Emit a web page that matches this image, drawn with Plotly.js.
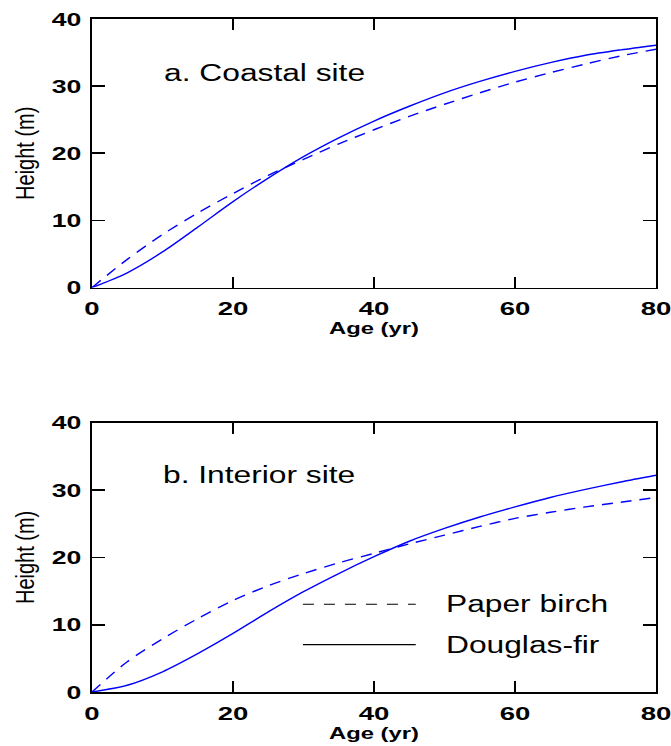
<!DOCTYPE html>
<html>
<head>
<meta charset="utf-8">
<script src="https://cdn.plot.ly/plotly-3.0.1.min.js"></script>
<style>
  html, body { margin: 0; padding: 0; background: #fff; }
  #chart { width: 671px; height: 746px; }
</style>
</head>
<body>
<div id="chart"></div>
<script>
// ---- Data ----
const age = [0, 5, 10, 15, 20, 25, 30, 35, 40, 45, 50, 55, 60, 65, 70, 75, 80];
const coastalBirch  = [0, 4.2, 7.9, 11.1, 14.0, 16.7, 19.1, 21.4, 23.5, 25.5, 27.3, 29.0, 30.6, 32.0, 33.3, 34.5, 35.5];
const coastalFir    = [0, 2.2, 5.3, 9.0, 12.8, 16.3, 19.5, 22.3, 24.8, 27.0, 29.0, 30.7, 32.2, 33.5, 34.6, 35.4, 36.1];
const interiorBirch = [0, 4.5, 7.9, 10.9, 13.6, 15.8, 17.6, 19.2, 20.6, 22.0, 23.3, 24.6, 25.8, 26.7, 27.5, 28.2, 28.9];
const interiorFir   = [0, 1.0, 3.0, 5.7, 8.7, 11.9, 14.9, 17.6, 20.1, 22.4, 24.3, 26.0, 27.5, 28.9, 30.1, 31.2, 32.2];
const xTickVals = [0, 20, 40, 60, 80];
const yTickVals = [0, 10, 20, 30, 40];
const panelLabels = ['a. Coastal site', 'b. Interior site'];
const seriesNames = ['Paper birch', 'Douglas-fir'];
const xTitle = 'Age (yr)';
const yTitle = 'Height (m)';

const BLUE = '#0000ff';
const DASH = '11px,8px';
const FONT = 'Liberation Sans, Arial, sans-serif';

function curve(y, dash, xa, ya, name) {
  return {
    x: age, y: y, type: 'scatter', mode: 'lines', name: name,
    xaxis: xa, yaxis: ya, showlegend: false, hoverinfo: 'skip',
    line: { color: BLUE, width: 1.4, dash: dash, shape: 'spline', smoothing: 0.8 }
  };
}

const traces = [
  curve(coastalBirch, DASH, 'x', 'y', seriesNames[0]),
  curve(coastalFir, 'solid', 'x', 'y', seriesNames[1]),
  curve(interiorBirch, DASH, 'x2', 'y2', seriesNames[0]),
  curve(interiorFir, 'solid', 'x2', 'y2', seriesNames[1])
];

const tickFont = { family: FONT, size: 19, color: '#000', weight: 'bold' };

function xAxis(anchor) {
  return {
    anchor: anchor, domain: [0, 1], range: [0, 80],
    tickvals: xTickVals, ticktext: xTickVals.map(String),
    ticks: 'inside', ticklen: 11, tickwidth: 1.6, tickcolor: '#000',
    showline: true, linecolor: '#000', linewidth: 1.8, mirror: 'ticks',
    showgrid: false, zeroline: false,
    tickfont: tickFont,
    ticklabelstandoff: 3,
    title: { text: xTitle, font: { family: FONT, size: 17, color: '#000', weight: 'bold' }, standoff: 0 }
  };
}
function yAxis(domain, anchor) {
  return {
    anchor: anchor, domain: domain, range: [0, 40],
    tickvals: yTickVals, ticktext: yTickVals.map(String),
    ticks: 'inside', ticklen: 13, tickwidth: 1.6, tickcolor: '#000',
    showline: true, linecolor: '#000', linewidth: 1.8, mirror: 'ticks',
    showgrid: false, zeroline: false,
    tickfont: tickFont,
    ticklabelstandoff: 5,
    title: { text: yTitle, font: { family: FONT, size: 20, color: '#000' }, standoff: 22 }
  };
}

const annFont = { family: FONT, size: 23, color: '#000' };
const legFont = { family: FONT, size: 23, color: '#000' };

const layout = {
  width: 671, height: 746,
  margin: { l: 92, r: 15, t: 19, b: 54 },
  paper_bgcolor: '#fff', plot_bgcolor: '#fff',
  showlegend: false,
  xaxis: xAxis('y'),
  yaxis: yAxis([0.601, 1], 'x'),
  xaxis2: xAxis('y2'),
  yaxis2: yAxis([0, 0.400], 'x2'),
  annotations: [
    { xref: 'x domain', yref: 'y domain', x: 0.126, y: 0.80, xanchor: 'left', yanchor: 'middle',
      text: panelLabels[0], showarrow: false, font: annFont, borderpad: 0 },
    { xref: 'x2 domain', yref: 'y2 domain', x: 0.124, y: 0.806, xanchor: 'left', yanchor: 'middle',
      text: panelLabels[1], showarrow: false, font: annFont, borderpad: 0 },
    { xref: 'x2 domain', yref: 'y2 domain', x: 0.626, y: 0.326, xanchor: 'left', yanchor: 'middle',
      text: seriesNames[0], showarrow: false, font: legFont, borderpad: 0 },
    { xref: 'x2 domain', yref: 'y2 domain', x: 0.626, y: 0.176, xanchor: 'left', yanchor: 'middle',
      text: seriesNames[1], showarrow: false, font: legFont, borderpad: 0 }
  ],
  shapes: [
    { type: 'line', xref: 'x2 domain', yref: 'y2 domain', x0: 0.374, x1: 0.574, y0: 0.326, y1: 0.326,
      line: { color: '#000', width: 1.2, dash: '11px,10px' } },
    { type: 'line', xref: 'x2 domain', yref: 'y2 domain', x0: 0.374, x1: 0.574, y0: 0.176, y1: 0.176,
      line: { color: '#000', width: 1.2, dash: 'solid' } }
  ]
};

// widen text horizontally on screen (the reference picture is stretched sideways)
function stretch(el, sx, mode) {
  let bb;
  try { bb = el.getBBox(); } catch (e) { return; }
  let ax;
  if (mode === 'left') ax = bb.x;
  else if (mode === 'right') ax = bb.x + bb.width;
  else ax = bb.x + bb.width / 2;
  const t = el.getAttribute('transform') || '';
  el.setAttribute('transform', t + ' translate(' + ax + ',0) scale(' + sx + ',1) translate(' + (-ax) + ',0)');
}
// rotated (vertical) text: thicken along its local y, which is screen x
function stretchRotated(el, sy) {
  let bb;
  try { bb = el.getBBox(); } catch (e) { return; }
  const cy = bb.y + bb.height / 2;
  const t = el.getAttribute('transform') || '';
  el.setAttribute('transform', t + ' translate(0,' + cy + ') scale(1,' + sy + ') translate(0,' + (-cy) + ')');
}

Plotly.newPlot('chart', traces, layout, { staticPlot: true, displayModeBar: false }).then(function (gd) {
  gd.querySelectorAll('.xtick text, .x2tick text').forEach(function (el) { stretch(el, 1.45, 'center'); });
  gd.querySelectorAll('.ytick text, .y2tick text').forEach(function (el) { stretch(el, 1.4, 'right'); });
  gd.querySelectorAll('.g-xtitle text, .g-x2title text').forEach(function (el) { stretch(el, 1.4, 'center'); });
  gd.querySelectorAll('.g-ytitle text, .g-y2title text').forEach(function (el) { stretchRotated(el, 1.3); });
  gd.querySelectorAll('.annotation-text').forEach(function (el) { stretch(el, 1.38, 'left'); });
});
</script>
</body>
</html>
